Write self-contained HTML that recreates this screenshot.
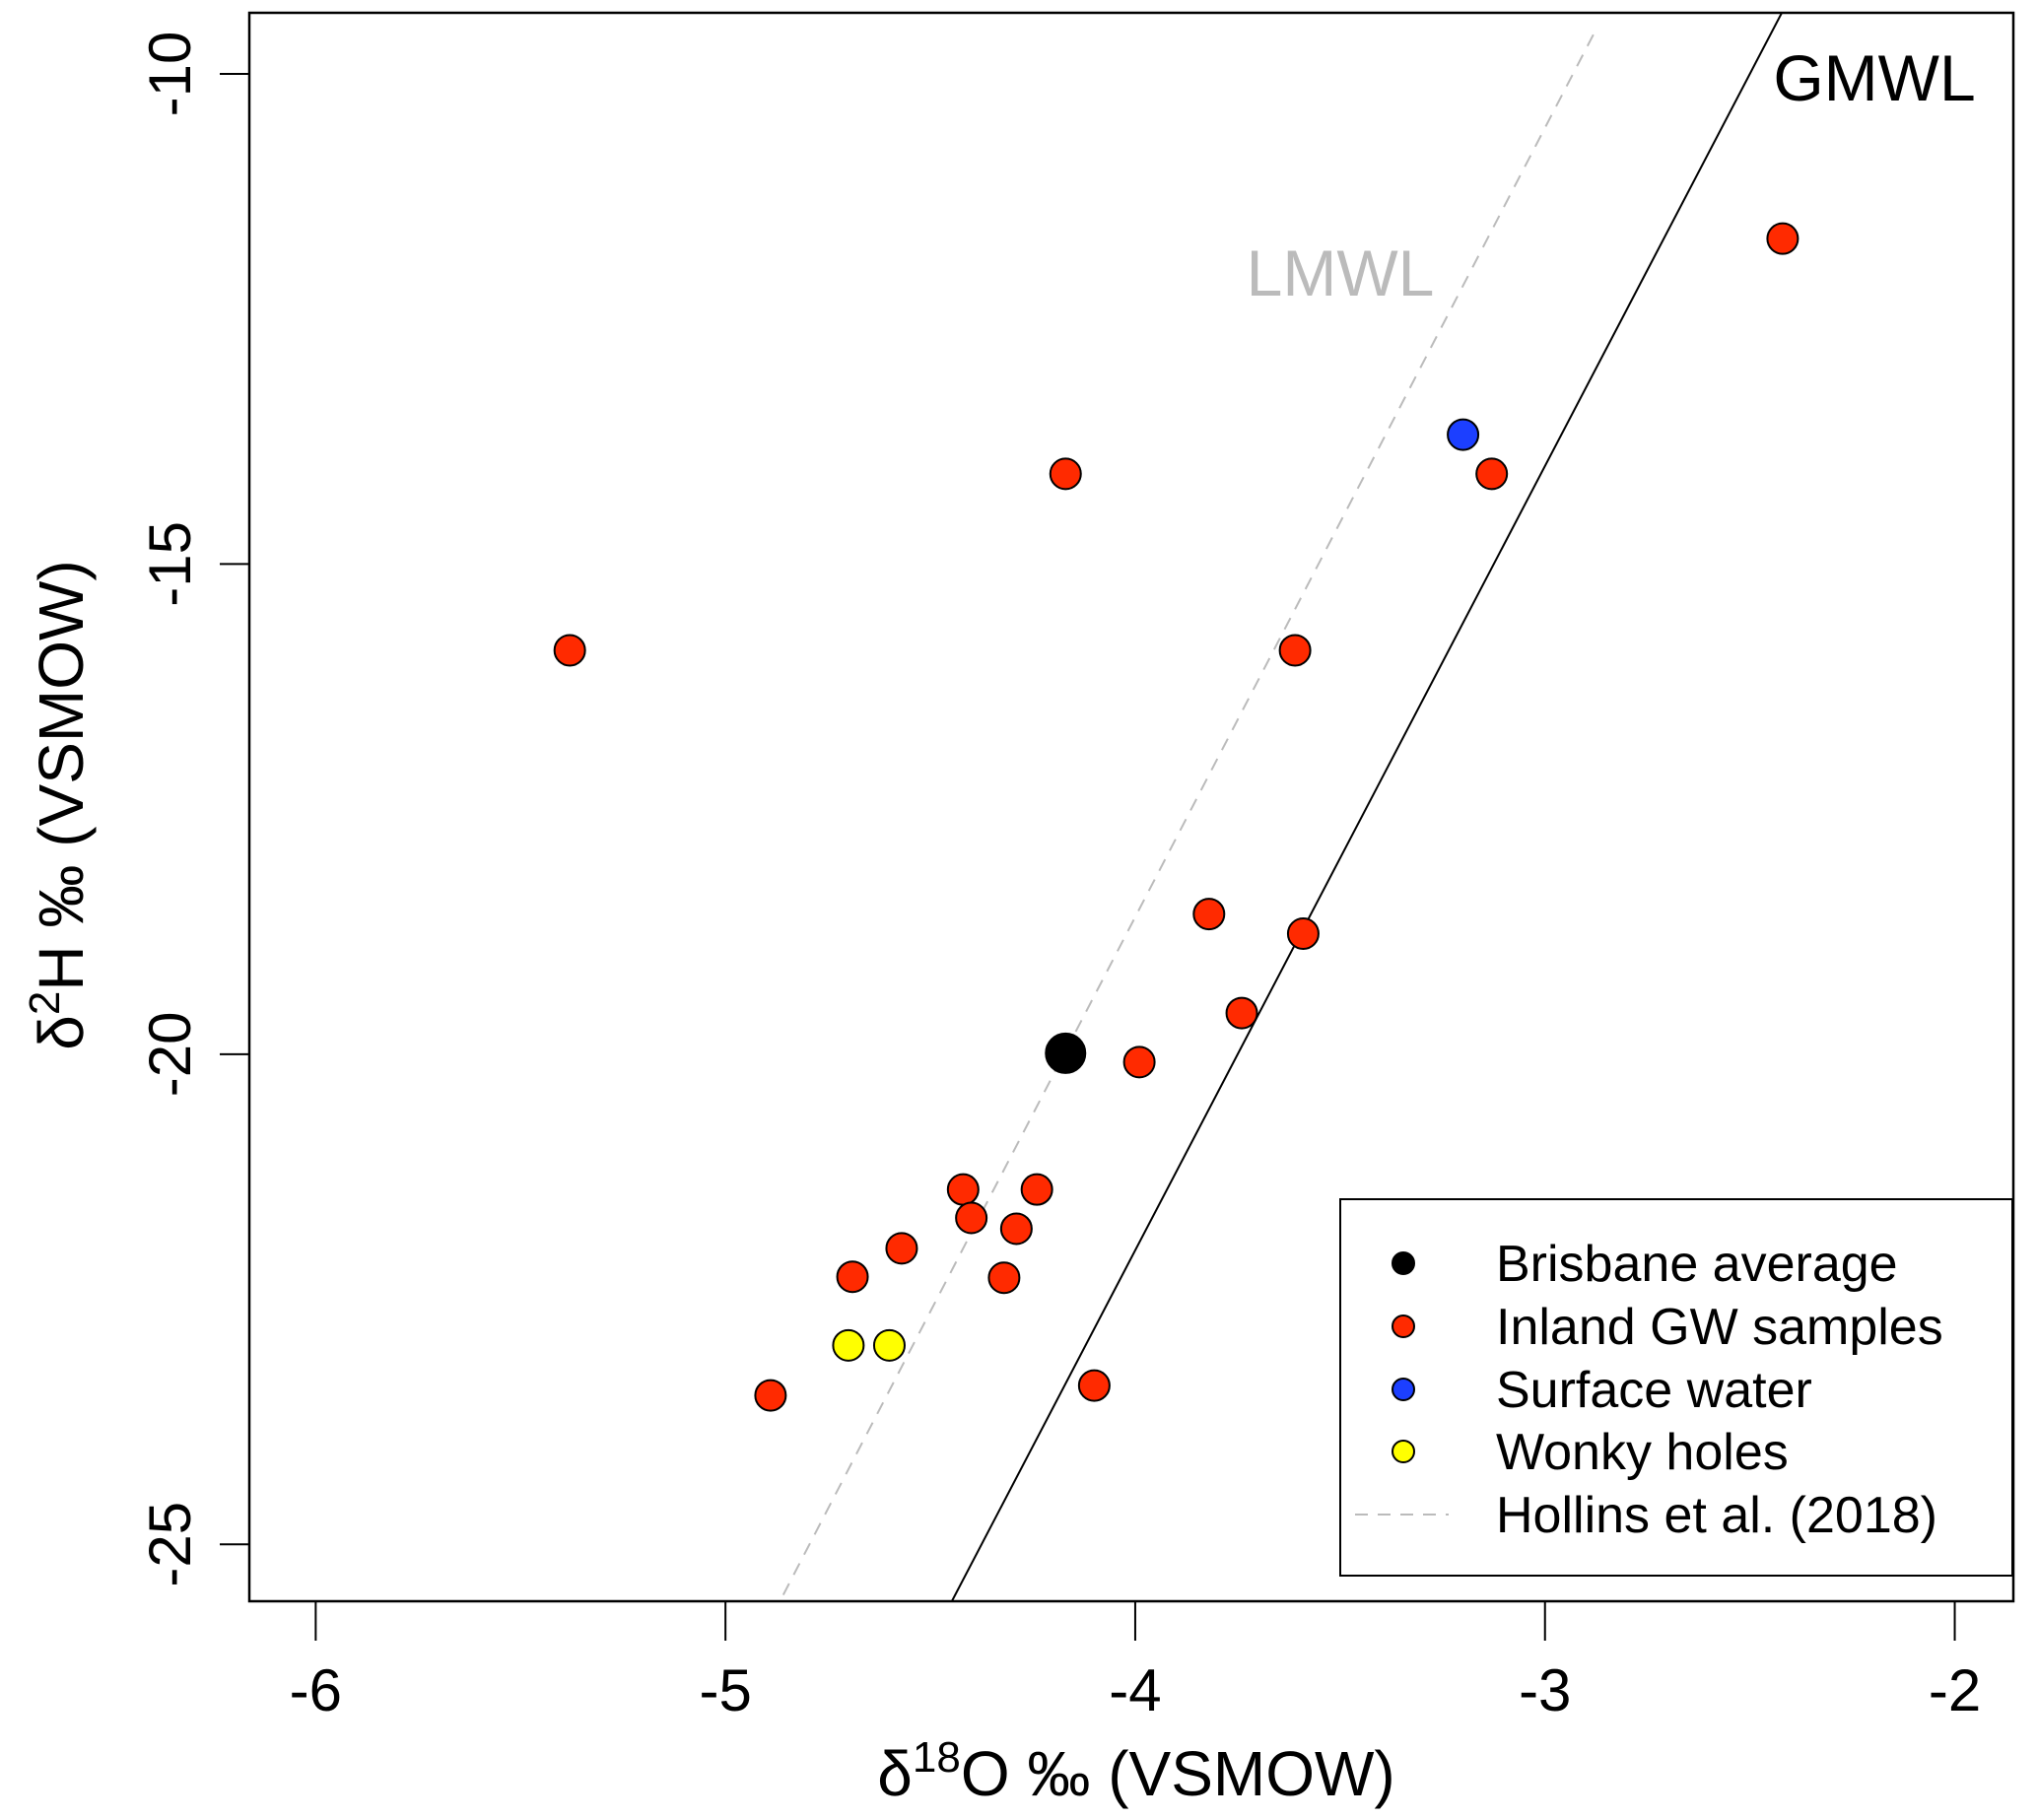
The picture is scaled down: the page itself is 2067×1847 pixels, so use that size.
<!DOCTYPE html>
<html><head><meta charset="utf-8"><style>
html,body{margin:0;padding:0;background:#fff}
svg{display:block}
text{font-family:"Liberation Sans",Arial,sans-serif}
</style></head><body>
<svg id="chart" width="2067" height="1847" viewBox="0 0 2067 1847" xmlns="http://www.w3.org/2000/svg">
<g id="marks"></g>
</svg>
<script>
const xTicks=[-6,-5,-4,-3,-2];
const yTicks=[-10,-15,-20,-25];
const gwX=[-2.42,-3.13,-4.17,-5.38,-3.61,-3.82,-3.59,-3.74,-3.99,-4.42,-4.24,-4.40,-4.29,-4.57,-4.69,-4.32,-4.89,-4.10];
const gwY=[-11.68,-14.08,-14.08,-15.88,-15.88,-18.57,-18.77,-19.58,-20.08,-21.38,-21.38,-21.67,-21.78,-21.98,-22.27,-22.28,-23.48,-23.38];
const swX=[-3.20];
const swY=[-13.68];
const wonkyX=[-4.70,-4.60];
const wonkyY=[-22.97,-22.97];
const brisX=[-4.17];
const brisY=[-19.99];
const gmwlSlope=8, gmwlInt=10;
const lmwlSlope=8.05, lmwlInt=13.6, lmwlX0=-4.859, lmwlX1=-2.872;

const NS='http://www.w3.org/2000/svg';
const L=253,R=2043,T=13,B=1625;
const xmin=-6.162,xmax=-1.857,ymin=-25.58,ymax=-9.377;
const sx=v=>L+(v-xmin)/(xmax-xmin)*(R-L);
const sy=v=>B-(v-ymin)/(ymax-ymin)*(B-T);
const svg=document.getElementById('marks');
function el(tag,attrs,parent){const e=document.createElementNS(NS,tag);for(const k in attrs)e.setAttribute(k,attrs[k]);(parent||svg).appendChild(e);return e;}

const defs=el('defs',{});
const cp=el('clipPath',{id:'pc'},defs);
el('rect',{x:L,y:T,width:R-L,height:B-T},cp);

const gy0=ymin,gy1=ymax;
const g=el('line',{x1:sx((gy0-gmwlInt)/gmwlSlope),y1:sy(gy0),x2:sx((gy1-gmwlInt)/gmwlSlope),y2:sy(gy1),stroke:'#000','stroke-width':2,'clip-path':'url(#pc)'});


const lm=el('line',{x1:sx(lmwlX0),y1:sy(lmwlSlope*lmwlX0+lmwlInt),x2:sx(lmwlX1),y2:sy(lmwlSlope*lmwlX1+lmwlInt),stroke:'#bbb','stroke-width':2,'stroke-dasharray':'13 10','clip-path':'url(#pc)'});



function pts(xs,ys,fill,r,name){
  xs.forEach((x,i)=>{
    const c=el('circle',{cx:sx(x),cy:sy(ys[i]),r:r,fill:fill,stroke:'#000','stroke-width':2});
    
    
  });
}
pts(gwX,gwY,'#ff2a00',15.5,'inland-gw-point');
pts(swX,swY,'#1c3fff',15.5,'surface-water-point');
pts(wonkyX,wonkyY,'#ffff00',15.5,'wonky-hole-point');
pts(brisX,brisY,'#000',20,'brisbane-average-point');

const fr=el('rect',{x:L,y:T,width:R-L,height:B-T,fill:'none',stroke:'#000','stroke-width':2.5});



xTicks.forEach(v=>{
  const t=el('line',{x1:sx(v),y1:B,x2:sx(v),y2:B+40,stroke:'#000','stroke-width':2});
  
  
  const tx=el('text',{x:sx(v),y:1736,'font-size':60,'text-anchor':'middle'});
  tx.textContent=v;
  
  
});
yTicks.forEach(v=>{
  const t=el('line',{x1:L,y1:sy(v),x2:L-30,y2:sy(v),stroke:'#000','stroke-width':2});
  
  
  const tx=el('text',{x:0,y:0,'font-size':60,'text-anchor':'middle',transform:`translate(193,${sy(v)}) rotate(-90)`});
  tx.textContent=v;
  
  
});
</script>
<svg style="position:absolute;left:0;top:0" width="2067" height="1847" xmlns="http://www.w3.org/2000/svg">
<text x="1153" y="1822" font-size="64" text-anchor="middle">δ<tspan dy="-24" font-size="44">18</tspan><tspan dy="24">O ‰ (VSMOW)</tspan></text>
<text transform="translate(84,817) rotate(-90)" font-size="64" text-anchor="middle">δ<tspan dy="-24" font-size="44">2</tspan><tspan dy="24">H ‰ (VSMOW)</tspan></text>
<text x="1360" y="300" font-size="66" fill="#bbb" text-anchor="middle">LMWL</text>
<text x="1902" y="102" font-size="66" text-anchor="middle">GMWL</text>
<g>
<rect x="1360" y="1217" width="682" height="382" fill="#fff" stroke="#000" stroke-width="2"/>
<circle cx="1424" cy="1282" r="11" fill="#000" stroke="#000" stroke-width="2"/>
<text x="1518" y="1300" font-size="52">Brisbane average</text>
<circle cx="1424" cy="1346" r="11" fill="#ff2a00" stroke="#000" stroke-width="2"/>
<text x="1518" y="1364" font-size="52">Inland GW samples</text>
<circle cx="1424" cy="1410" r="11" fill="#1c3fff" stroke="#000" stroke-width="2"/>
<text x="1518" y="1428" font-size="52">Surface water</text>
<circle cx="1424" cy="1473" r="11" fill="#ffff00" stroke="#000" stroke-width="2"/>
<text x="1518" y="1491" font-size="52">Wonky holes</text>
<line x1="1375" y1="1537" x2="1470" y2="1537" stroke="#bbb" stroke-width="2" stroke-dasharray="13 10"/>
<text x="1518" y="1555" font-size="52">Hollins et al. (2018)</text>
</g>
</svg>
</body></html>
